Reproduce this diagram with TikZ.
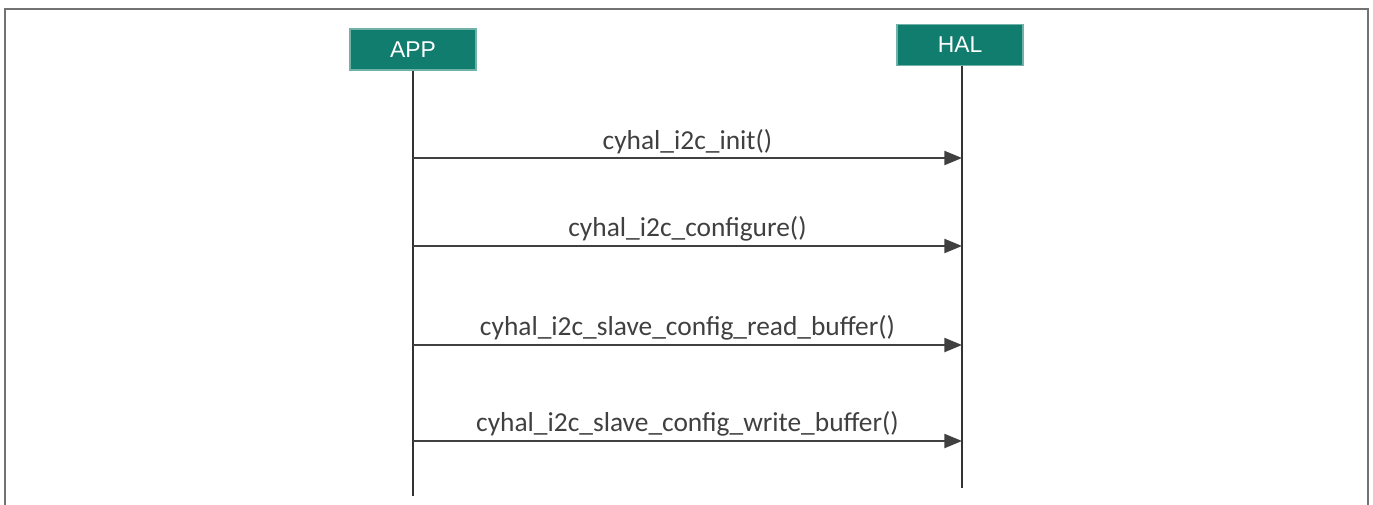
\documentclass[tikz,border=0pt]{standalone}
\usepackage{fontspec}
\setmainfont{Carlito}
\newfontfamily\boxfont{Liberation Sans}
\usetikzlibrary{arrows.meta}
\definecolor{halgreen}{RGB}{16,125,110}
\tikzset{
  actor box/.style={
    rectangle,
    fill=halgreen,
    draw=halgreen!60!white,
    line width=0.8pt,
    minimum width=126*0.02cm,
    minimum height=41*0.02cm,
    inner sep=0pt,
    text=white,
    font=\boxfont\fontsize{13pt}{15pt}\selectfont
  },
  life line/.style={
    line width=1.3pt,
    color=black!80
  },
  call arrow/.style={
    -{Triangle[length=10pt,width=8pt]},
    line width=1pt,
    color=black!75
  },
  call label/.style={
    above,
    font=\fontsize{15.6pt}{18pt}\selectfont,
    inner sep=2pt
  }
}
\begin{document}
\begin{tikzpicture}[x=0.02cm, y=-0.02cm]

  %% ---- frame ----
  \useasboundingbox (0,0) rectangle (1373,504);
  \draw[line width=1.2pt, black!55] (5,520) -- (5,9) -- (1368,9) -- (1368,520);

  %% ---- actors ----
  \node[actor box] (app) at (413,49.5) {APP};
  \node[actor box] (hal) at (960,45) {HAL};

  % life lines
  \coordinate (app end) at (413,496);
  \coordinate (hal end) at (962,488);
  \draw[life line] (app.south) -- (app end);
  \draw[life line] (hal.south -| hal end) -- (hal end);

  %% ---- calls APP -> HAL ----
  \foreach \y/\name/\txt in {158/a/cyhal\_i2c\_init(),
                             246/b/cyhal\_i2c\_configure(),
                             345/c/cyhal\_i2c\_slave\_config\_read\_buffer(),
                             441/d/cyhal\_i2c\_slave\_config\_write\_buffer()} {
    \coordinate (\name0) at (413,\y);
    \coordinate (\name1) at (962,\y);
    \draw[call arrow] (\name0) -- (\name1)
        node[call label, pos=0.5] {\txt};
  }

\end{tikzpicture}
\end{document}
